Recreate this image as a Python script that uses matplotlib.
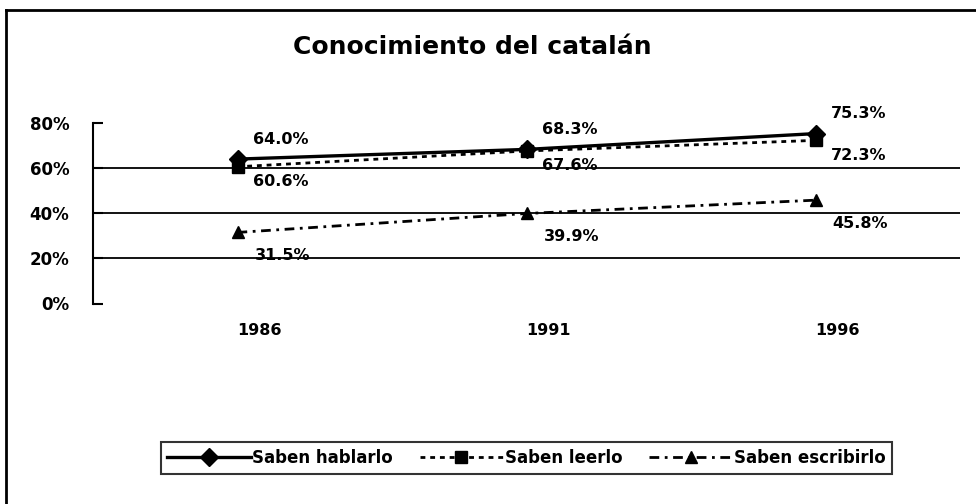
import matplotlib
matplotlib.use("Agg")
import matplotlib.pyplot as plt
from matplotlib.lines import Line2D

plt.rcParams['font.family'] = ['DejaVu Sans']
plt.rcParams['lines.scale_dashes'] = False

# ---- data ----
years = ["1986", "1991", "1996"]
hablarlo = [64.0, 68.3, 75.3]
leerlo = [60.6, 67.6, 72.3]
escribirlo = [31.5, 39.9, 45.8]
series_names = ["Saben hablarlo", "Saben leerlo", "Saben escribirlo"]
y_ticks = [0, 20, 40, 60, 80]
y_tick_labels = ["0%", "20%", "40%", "60%", "80%"]
title = "Conocimiento del catalán"

fig = plt.figure(figsize=(9.76, 5.04), dpi=100)
ax = fig.add_axes([93/976, 1-303.5/504, (960-93)/976, (303.5-123)/504])

x = list(range(len(years)))

styles = [
    dict(ls='-', lw=2.4, marker='D', ms=9),
    dict(ls=(0, (3.5, 3.5)), lw=2.0, marker='s', ms=9),
    dict(ls=(0, (7, 4, 2, 4)), lw=2.0, marker='^', ms=8),
]
# label offsets in pixels (dx, dy)
offsets = [(43, 20), (43, -15), (45, -23)]
all_series = [hablarlo, leerlo, escribirlo]

# gridlines (inner ticks only)
for t in y_ticks[1:-1]:
    ax.axhline(t, color='black', lw=1.3, zorder=1)

for vals, st, off in zip(all_series, styles, offsets):
    ax.plot(x, vals, color='black', ls=st['ls'], lw=st['lw'], marker=st['marker'],
            ms=st['ms'], mfc='black', mec='black', zorder=3)
    for xi, v in zip(x, vals):
        ax.annotate(f"{v:.1f}%", (xi, v), xytext=off, textcoords='offset pixels',
                    ha='center', va='center', fontsize=11.5, fontweight='bold')

ax.set_xlim(-0.5, 2.5)
ax.set_ylim(0, 80)
ax.set_yticks(y_ticks)
ax.set_yticklabels(y_tick_labels, fontsize=12, fontweight='bold')
ax.set_xticks(x)
ax.set_xticklabels(years, fontsize=11.5, fontweight='bold', ha='left')

ax.tick_params(axis='y', direction='in', length=7, width=1.5, pad=17)
ax.tick_params(axis='x', length=0, pad=14)
for s in ['top', 'right', 'bottom']:
    ax.spines[s].set_visible(False)
ax.spines['left'].set_linewidth(1.5)

fig.text(472/976, 1-47/504, title, ha='center', va='center', fontsize=18, fontweight='bold')

# legend
handles = [Line2D([], [], color='black', ls=st['ls'], lw=st['lw'], marker=st['marker'],
                  ms=st['ms']) for st in styles]
leg = fig.legend(handles, series_names, loc='center', bbox_to_anchor=(526.5/976, 1-458/504),
                 ncol=3, frameon=True, fancybox=False, edgecolor='black',
                 prop={'weight': 'bold', 'size': 12}, handlelength=5.0, handletextpad=0.1,
                 columnspacing=1.6, borderpad=0.4)
leg.get_frame().set_linewidth(1.5)

# outer border (left and top visible)
fig.add_artist(Line2D([6/976, 6/976], [0, 1-10/504], color='black', lw=2, transform=fig.transFigure))
fig.add_artist(Line2D([6/976, 1], [1-10/504, 1-10/504], color='black', lw=2, transform=fig.transFigure))

fig.savefig("out.png", dpi=100)
